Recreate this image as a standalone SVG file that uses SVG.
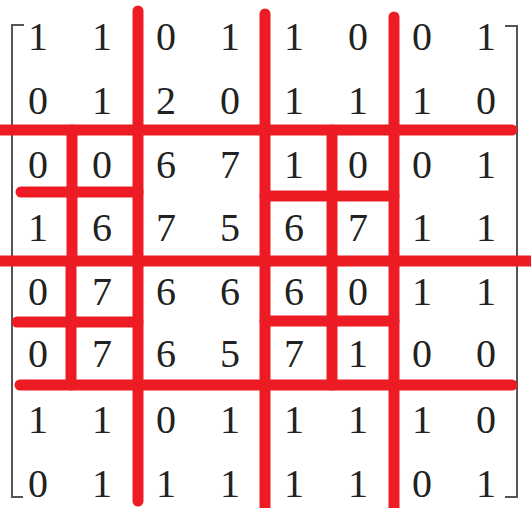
<svg xmlns="http://www.w3.org/2000/svg" width="531" height="508" viewBox="0 0 531 508">
<style>
.d{font-family:"Liberation Serif","DejaVu Serif",serif;font-size:40px;fill:#222;text-anchor:middle}
.r{stroke:#ED1C24;stroke-width:11;stroke-linecap:round;fill:none}
.b{stroke:#555;stroke-width:2;fill:none}
</style>
<rect width="531" height="508" fill="#fff"/>
<g id="brackets">
<path class="b" d="M24,25 H12 V497 H23"/>
<path class="b" d="M505,26 H517 V497 H505"/>
</g>
<g id="matrix">
<text class="d" y="50"><tspan x="38">1</tspan><tspan x="102">1</tspan><tspan x="166">0</tspan><tspan x="230">1</tspan><tspan x="294">1</tspan><tspan x="358">0</tspan><tspan x="422">0</tspan><tspan x="486">1</tspan></text>
<text class="d" y="114"><tspan x="38">0</tspan><tspan x="102">1</tspan><tspan x="166">2</tspan><tspan x="230">0</tspan><tspan x="294">1</tspan><tspan x="358">1</tspan><tspan x="422">1</tspan><tspan x="486">0</tspan></text>
<text class="d" y="178"><tspan x="38">0</tspan><tspan x="102">0</tspan><tspan x="166">6</tspan><tspan x="230">7</tspan><tspan x="294">1</tspan><tspan x="358">0</tspan><tspan x="422">0</tspan><tspan x="486">1</tspan></text>
<text class="d" y="241"><tspan x="38">1</tspan><tspan x="102">6</tspan><tspan x="166">7</tspan><tspan x="230">5</tspan><tspan x="294">6</tspan><tspan x="358">7</tspan><tspan x="422">1</tspan><tspan x="486">1</tspan></text>
<text class="d" y="305"><tspan x="38">0</tspan><tspan x="102">7</tspan><tspan x="166">6</tspan><tspan x="230">6</tspan><tspan x="294">6</tspan><tspan x="358">0</tspan><tspan x="422">1</tspan><tspan x="486">1</tspan></text>
<text class="d" y="367"><tspan x="38">0</tspan><tspan x="102">7</tspan><tspan x="166">6</tspan><tspan x="230">5</tspan><tspan x="294">7</tspan><tspan x="358">1</tspan><tspan x="422">0</tspan><tspan x="486">0</tspan></text>
<text class="d" y="433"><tspan x="38">1</tspan><tspan x="102">1</tspan><tspan x="166">0</tspan><tspan x="230">1</tspan><tspan x="294">1</tspan><tspan x="358">1</tspan><tspan x="422">1</tspan><tspan x="486">0</tspan></text>
<text class="d" y="497"><tspan x="38">0</tspan><tspan x="102">1</tspan><tspan x="166">1</tspan><tspan x="230">1</tspan><tspan x="294">1</tspan><tspan x="358">1</tspan><tspan x="422">0</tspan><tspan x="486">1</tspan></text>
</g>
<g id="partition-lines">
<line class="r" x1="138" y1="11" x2="138" y2="501"/>
<line class="r" x1="265" y1="14" x2="265" y2="515"/>
<line class="r" x1="394" y1="17" x2="394" y2="515"/>
<line class="r" x1="-5" y1="130" x2="512" y2="130"/>
<line class="r" x1="-5" y1="261" x2="540" y2="261"/>
<line class="r" x1="20" y1="385" x2="512" y2="385"/>
<line class="r" x1="72" y1="130" x2="72" y2="261"/>
<line class="r" x1="21" y1="192" x2="138" y2="192"/>
<line class="r" x1="332" y1="130" x2="332" y2="261"/>
<line class="r" x1="265" y1="196" x2="394" y2="196"/>
<line class="r" x1="71" y1="261" x2="71" y2="385"/>
<line class="r" x1="17" y1="322" x2="138" y2="322"/>
<line class="r" x1="332" y1="261" x2="332" y2="385"/>
<line class="r" x1="265" y1="321" x2="394" y2="321"/>
</g>
</svg>
